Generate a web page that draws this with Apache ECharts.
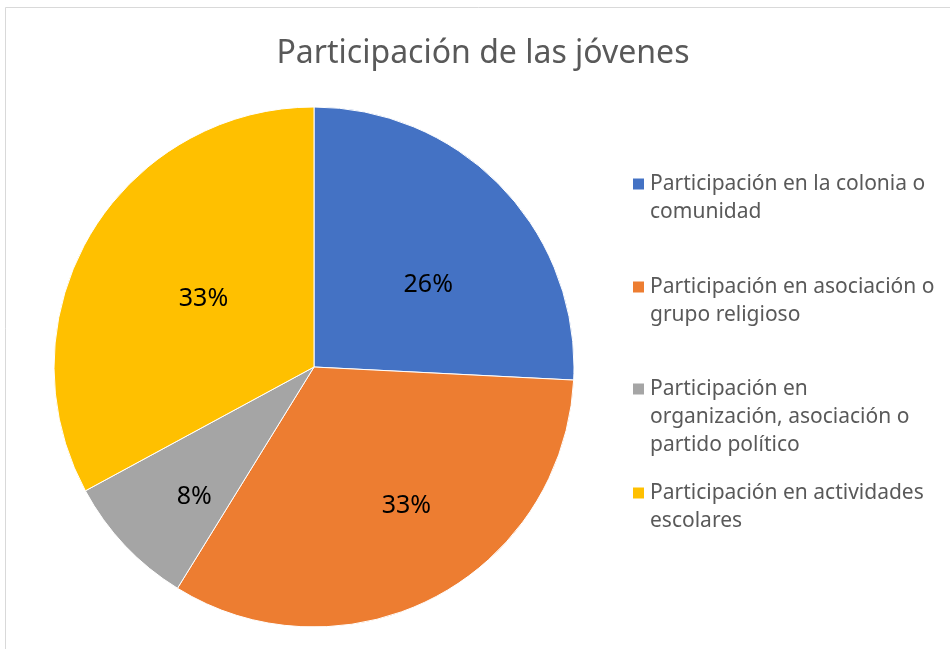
<!DOCTYPE html>
<html>
<head>
<meta charset="utf-8">
<style>
  html, body { margin: 0; padding: 0; background: #fff; }
  #chart { width: 950px; height: 649px; }
</style>
<script src="https://cdn.jsdelivr.net/npm/echarts@6/dist/echarts.min.js"></script>
</head>
<body>
<div id="chart"></div>
<script>
const categories = [
  'Participación en la colonia o comunidad',
  'Participación en asociación o grupo religioso',
  'Participación en organización, asociación o partido político',
  'Participación en actividades escolares',
];
// legend text broken into lines as in the picture
const legendLines = [
  ['Participación en la colonia o', 'comunidad'],
  ['Participación en asociación o', 'grupo religioso'],
  ['Participación en', 'organización, asociación o', 'partido político'],
  ['Participación en actividades', 'escolares'],
];
const values = [25.8, 33.0, 8.3, 32.9];
const colors = ['#4472C4', '#ED7D31', '#A5A5A5', '#FFC000'];

const CX = 314, CY = 367, R = 260;
// label placement: share of radius, and angle shift (deg) from the slice middle
const labelDist = [0.54, 0.64, 0.68, 0.5];
const labelTurn = [8, -6, -4, 1];
const LINE_H = 28;
const legendCenters = [184, 287, 389, 493];

const chart = echarts.init(document.getElementById('chart'));

// the legend centres the text block on the icon, so pad the top with empty
// lines to line the icon up with the first line
const legends = categories.map((name, i) => {
  const n = legendLines[i].length;
  const lines = new Array(n - 1).fill('').concat(legendLines[i]);
  return {
    data: [name],
    left: 631,
    top: legendCenters[i] - (2 * n - 1) * LINE_H / 2,
    orient: 'vertical',
    padding: 0,
    itemWidth: 13,
    itemHeight: 13,
    icon: 'rect',
    selectedMode: false,
    formatter: () => lines.join('\n'),
    textStyle: {
      fontFamily: 'Noto Sans',
      fontSize: 21,
      color: '#595959',
      lineHeight: LINE_H,
    },
  };
});

chart.setOption({
  backgroundColor: '#fff',
  animation: false,
  title: {
    text: 'Participación de las jóvenes',
    left: 478,
    top: 33,
    textAlign: 'center',
    textStyle: {
      fontFamily: 'Noto Sans',
      fontSize: 32,
      fontWeight: 'normal',
      color: '#595959',
    },
  },
  legend: legends,
  graphic: [{
    type: 'rect',
    shape: { x: 5.5, y: 7.5, width: 1000, height: 1000 },
    style: { fill: 'none', stroke: '#d9d9d9', lineWidth: 1 },
    silent: true,
  }],
  series: [{
    type: 'pie',
    center: [CX, CY],
    radius: R,
    startAngle: 90,
    clockwise: true,
    data: categories.map((name, i) => ({
      name,
      value: values[i],
      itemStyle: { color: colors[i] },
    })),
    itemStyle: { borderColor: '#fff', borderWidth: 1 },
    label: {
      show: true,
      position: 'inside',
      fontFamily: 'Noto Sans',
      fontSize: 25,
      color: '#000',
      formatter: (p) => Math.round(p.percent) + '%',
    },
    labelLayout: (p) => {
      const lr = p.labelRect;
      const lx = lr.x + lr.width / 2;
      const ly = lr.y + lr.height / 2;
      const a = Math.atan2(lx - CX, CY - ly) + labelTurn[p.dataIndex] * Math.PI / 180;
      const d = labelDist[p.dataIndex] * R;
      return {
        dx: CX + d * Math.sin(a) - lx,
        dy: CY - d * Math.cos(a) - ly,
      };
    },
    emphasis: { disabled: true },
  }],
});
</script>
</body>
</html>
